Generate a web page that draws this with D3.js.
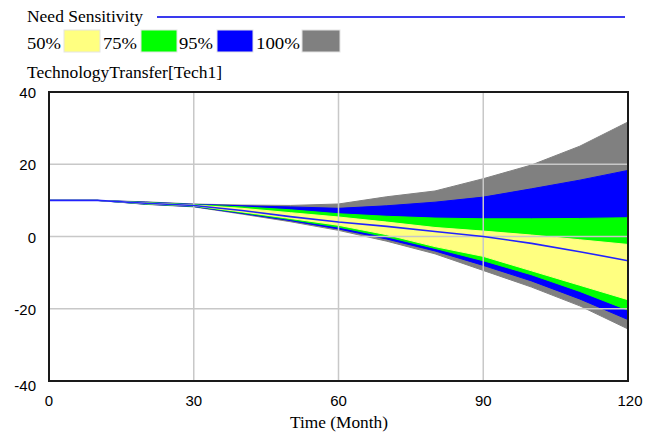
<!DOCTYPE html>
<html>
<head>
<meta charset="utf-8">
<script src="https://cdn.jsdelivr.net/npm/d3@7"></script>
<style>
  body { margin: 0; background: #fff; }
  svg { display: block; }
</style>
</head>
<body>
<div id="chart"></div>
<script>
// values (Time in months)
const months = [0, 10, 20, 30, 40, 50, 60, 70, 80, 90, 100, 110, 120];
const maxVals = [10, 10, 9.6, 9.0, 8.7, 8.6, 9.0, 11.0, 12.6, 16.0, 19.8, 25.0, 31.7];
const p975 = [10, 10, 9.5, 8.9, 8.5, 8.2, 7.8, 8.5, 9.5, 10.9, 13.2, 15.6, 18.3];
const p875 = [10, 10, 9.4, 8.8, 8.2, 7.4, 6.3, 5.6, 5.1, 4.9, 4.9, 5.0, 5.2];
const p75 = [10, 10, 9.3, 8.7, 7.8, 6.6, 5.4, 4.0, 2.5, 1.5, 0.4, -0.9, -2.2];
const median = [10, 10, 9.2, 8.6, 7.2, 5.5, 4.0, 2.8, 1.4, 0.0, -1.9, -4.2, -6.7];
const p25 = [10, 10, 9.1, 8.5, 6.8, 5.0, 3.1, 0.5, -2.8, -5.5, -9.5, -13.5, -17.5];
const p125 = [10, 10, 9.0, 8.4, 6.6, 4.7, 2.6, -0.1, -3.3, -6.7, -10.6, -15.2, -20.4];
const p025 = [10, 10, 8.95, 8.3, 6.4, 4.4, 2.1, -0.7, -4.0, -8.0, -12.3, -17.3, -23.0];
const minVals = [10, 10, 8.9, 8.2, 6.2, 4.1, 1.7, -1.3, -4.8, -9.4, -14.0, -19.2, -25.6];

const xTicks = [0, 30, 60, 90, 120];
const yTicks = [40, 20, 0, -20, -40];
const legendLabels = ['50%', '75%', '95%', '100%'];

const title = 'Need Sensitivity';
const varName = 'TechnologyTransfer[Tech1]';
const xTitle = 'Time (Month)';

// styles
const bandFill = {'50%': '#ffff80', '75%': '#00ff00', '95%': '#0000ff', '100%': '#808080'};
const lineColor = '#2222ff';
const gridColor = '#c8c8c8';
const serif = '"Liberation Serif", "Times New Roman", serif';
const sans = '"Liberation Sans", Arial, sans-serif';

const width = 645, height = 432;
const plot = {left: 49, right: 628, top: 92, bottom: 381};

const svg = d3.select('#chart').append('svg')
  .attr('width', width)
  .attr('height', height);

const x = d3.scaleLinear().domain([0, 120]).range([plot.left, plot.right]);
const y = d3.scaleLinear().domain([-40, 40]).range([plot.bottom, plot.top]);

// band table: lower / upper percentile for each legend entry
const bands = [
  {key: '100%', lo: minVals, hi: maxVals},
  {key: '95%', lo: p025, hi: p975},
  {key: '75%', lo: p125, hi: p875},
  {key: '50%', lo: p25, hi: p75}
];

/* header: title + series line, then legend */
svg.append('text')
  .attr('x', 27).attr('y', 22)
  .attr('textLength', 116).attr('lengthAdjust', 'spacingAndGlyphs')
  .style('font-family', serif).style('font-size', '16px')
  .text(title);

svg.append('line')
  .attr('x1', 157).attr('x2', 625)
  .attr('y1', 17).attr('y2', 17)
  .style('stroke', '#3a3aee')
  .style('stroke-width', '2px');

const legendX = [27, 103, 179, 256];
const legendBoxX = [64, 141, 217, 302];
const legendBoxW = [36, 36, 36, 38];

const legend = svg.append('g').attr('class', 'legend')
  .selectAll('g')
  .data(legendLabels)
  .enter().append('g');

legend.append('text')
  .attr('x', (d, i) => legendX[i])
  .attr('y', 49)
  .attr('textLength', d => d.length === 4 ? 44 : 34)
  .attr('lengthAdjust', 'spacingAndGlyphs')
  .style('font-family', serif).style('font-size', '16px')
  .text(d => d);

legend.append('rect')
  .attr('x', (d, i) => legendBoxX[i])
  .attr('y', 30)
  .attr('width', (d, i) => legendBoxW[i])
  .attr('height', 22)
  .style('fill', d => bandFill[d])
  .style('stroke', '#e4e4e4')
  .style('stroke-width', '1px');

svg.append('text')
  .attr('x', 27).attr('y', 78)
  .attr('textLength', 195).attr('lengthAdjust', 'spacingAndGlyphs')
  .style('font-family', serif).style('font-size', '16px')
  .text(varName);

/* plot body */
svg.append('defs').append('clipPath').attr('id', 'plotClip')
  .append('rect')
  .attr('x', plot.left).attr('y', plot.top)
  .attr('width', plot.right - plot.left)
  .attr('height', plot.bottom - plot.top);

const body = svg.append('g').attr('clip-path', 'url(#plotClip)');

const area = d3.area()
  .x(d => x(d.t))
  .y0(d => y(d.lo))
  .y1(d => y(d.hi));

body.append('g').attr('class', 'bands')
  .selectAll('path')
  .data(bands)
  .enter().append('path')
  .attr('d', b => area(months.map((t, i) => ({t: t, lo: b.lo[i], hi: b.hi[i]}))))
  .style('fill', b => bandFill[b.key])
  .style('stroke', b => bandFill[b.key])
  .style('stroke-width', '1px');

// gridlines sit over the bands
const grid = body.append('g').attr('class', 'grid');
grid.selectAll('line.v')
  .data(xTicks.slice(1, -1))
  .enter().append('line').attr('class', 'v')
  .attr('x1', d => x(d)).attr('x2', d => x(d))
  .attr('y1', plot.top).attr('y2', plot.bottom)
  .style('stroke', gridColor).style('stroke-width', '1.5px');
grid.selectAll('line.h')
  .data(yTicks.slice(1, -1))
  .enter().append('line').attr('class', 'h')
  .attr('x1', plot.left).attr('x2', plot.right)
  .attr('y1', d => y(d)).attr('y2', d => y(d))
  .style('stroke', gridColor).style('stroke-width', '1.5px');

const line = d3.line()
  .x(d => x(d.t))
  .y(d => y(d.v));

body.append('path')
  .datum(months.map((t, i) => ({t: t, v: median[i]})))
  .attr('d', line)
  .style('fill', 'none')
  .style('stroke', lineColor)
  .style('stroke-width', '1.6px');

// frame
svg.append('rect')
  .attr('x', plot.left).attr('y', plot.top)
  .attr('width', plot.right - plot.left)
  .attr('height', plot.bottom - plot.top)
  .style('fill', 'none')
  .style('stroke', '#1a1a1a')
  .style('stroke-width', '2px');

/* axes labels */
svg.append('g').attr('class', 'yTicks')
  .selectAll('text')
  .data(yTicks)
  .enter().append('text')
  .attr('x', 36)
  .attr('y', d => d === -40 ? y(d) + 10 : y(d) + 6)
  .attr('text-anchor', 'end')
  .style('font-family', sans).style('font-size', '15px')
  .text(d => d);

svg.append('g').attr('class', 'xTicks')
  .selectAll('text')
  .data(xTicks)
  .enter().append('text')
  .attr('x', d => x(d) + (d === 120 ? 2 : 0))
  .attr('y', 406)
  .attr('text-anchor', 'middle')
  .style('font-family', sans).style('font-size', '15px')
  .text(d => d);

svg.append('text')
  .attr('x', 339).attr('y', 428)
  .attr('text-anchor', 'middle')
  .attr('textLength', 98).attr('lengthAdjust', 'spacingAndGlyphs')
  .style('font-family', serif).style('font-size', '16px')
  .text(xTitle);
</script>
</body>
</html>
